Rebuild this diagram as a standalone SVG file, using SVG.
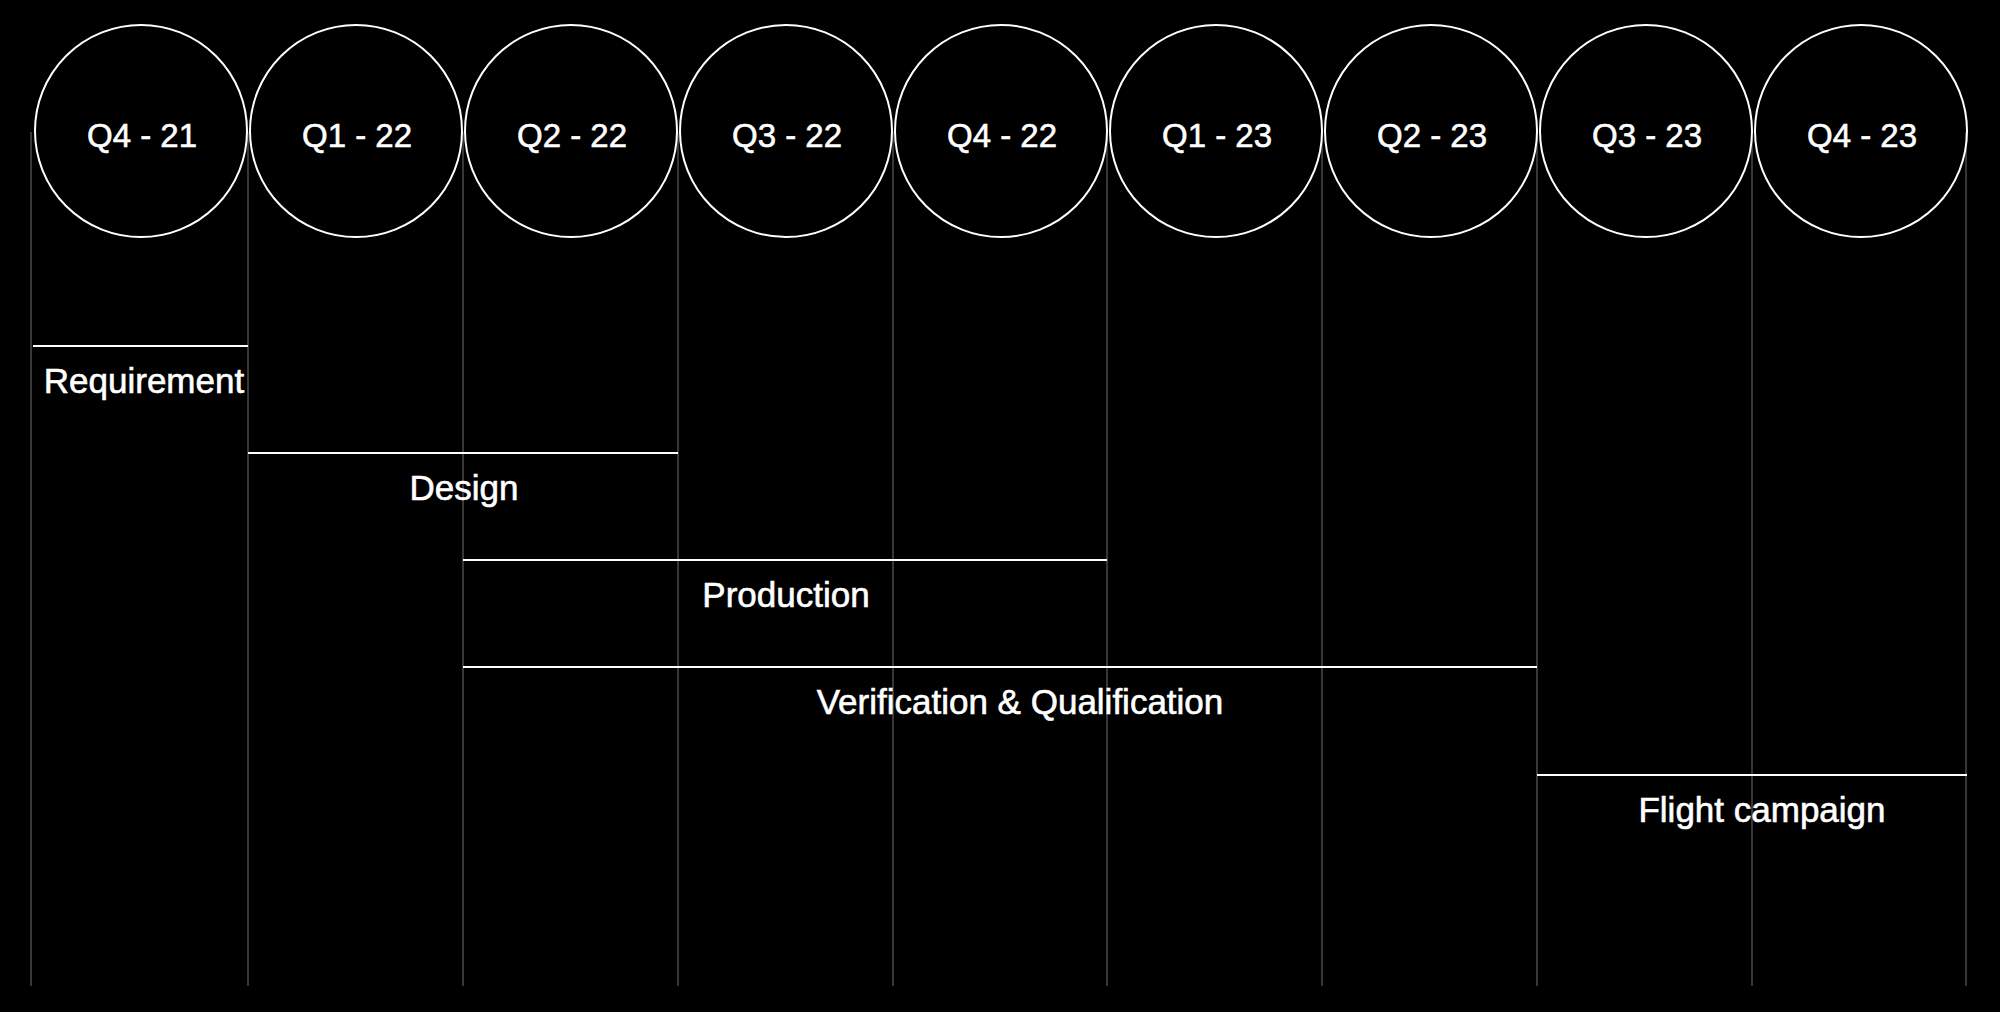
<svg xmlns="http://www.w3.org/2000/svg" width="2000" height="1012" viewBox="0 0 2000 1012">
<style>
.bg{fill:#000}
.grid{stroke:#555;stroke-width:1.3;fill:none}
.circ{fill:none;stroke:#fff;stroke-width:2}
.bar{stroke:#fff;stroke-width:2.2;fill:none}
.q{font-family:"Liberation Sans",Arial,sans-serif;font-size:33px;fill:#fff;stroke:#fff;stroke-width:0.6;text-anchor:middle}
.lbl{font-family:"Liberation Sans",Arial,sans-serif;font-size:35px;fill:#fff;stroke:#fff;stroke-width:0.6;text-anchor:middle}
</style>
<rect class="bg" x="0" y="0" width="2000" height="1012"/>
<g id="gridlines">
<line class="grid" x1="31" y1="132" x2="31" y2="986"/>
<line class="grid" x1="248" y1="132" x2="248" y2="986"/>
<line class="grid" x1="463" y1="132" x2="463" y2="986"/>
<line class="grid" x1="678" y1="132" x2="678" y2="986"/>
<line class="grid" x1="893" y1="132" x2="893" y2="986"/>
<line class="grid" x1="1107" y1="132" x2="1107" y2="986"/>
<line class="grid" x1="1322" y1="132" x2="1322" y2="986"/>
<line class="grid" x1="1537" y1="132" x2="1537" y2="986"/>
<line class="grid" x1="1752" y1="132" x2="1752" y2="986"/>
<line class="grid" x1="1966" y1="132" x2="1966" y2="986"/>
</g>
<g id="q4-21"><circle class="circ" cx="141" cy="131" r="106"/><text class="q" x="142" y="147">Q4 - 21</text></g>
<g id="q1-22"><circle class="circ" cx="356" cy="131" r="106"/><text class="q" x="357" y="147">Q1 - 22</text></g>
<g id="q2-22"><circle class="circ" cx="571" cy="131" r="106"/><text class="q" x="572" y="147">Q2 - 22</text></g>
<g id="q3-22"><circle class="circ" cx="786" cy="131" r="106"/><text class="q" x="787" y="147">Q3 - 22</text></g>
<g id="q4-22"><circle class="circ" cx="1001" cy="131" r="106"/><text class="q" x="1002" y="147">Q4 - 22</text></g>
<g id="q1-23"><circle class="circ" cx="1216" cy="131" r="106"/><text class="q" x="1217" y="147">Q1 - 23</text></g>
<g id="q2-23"><circle class="circ" cx="1431" cy="131" r="106"/><text class="q" x="1432" y="147">Q2 - 23</text></g>
<g id="q3-23"><circle class="circ" cx="1646" cy="131" r="106"/><text class="q" x="1647" y="147">Q3 - 23</text></g>
<g id="q4-23"><circle class="circ" cx="1861" cy="131" r="106"/><text class="q" x="1862" y="147">Q4 - 23</text></g>
<g id="requirement"><line class="bar" x1="33" y1="346" x2="248" y2="346"/><text class="lbl" x="144" y="393">Requirement</text></g>
<g id="design"><line class="bar" x1="248" y1="453" x2="678" y2="453"/><text class="lbl" x="464" y="500">Design</text></g>
<g id="production"><line class="bar" x1="463" y1="560" x2="1107" y2="560"/><text class="lbl" x="786" y="607">Production</text></g>
<g id="verification"><line class="bar" x1="463" y1="667" x2="1537" y2="667"/><text class="lbl" x="1020" y="714">Verification &amp; Qualification</text></g>
<g id="flight"><line class="bar" x1="1537" y1="775" x2="1967" y2="775"/><text class="lbl" x="1762" y="822">Flight campaign</text></g>
</svg>
